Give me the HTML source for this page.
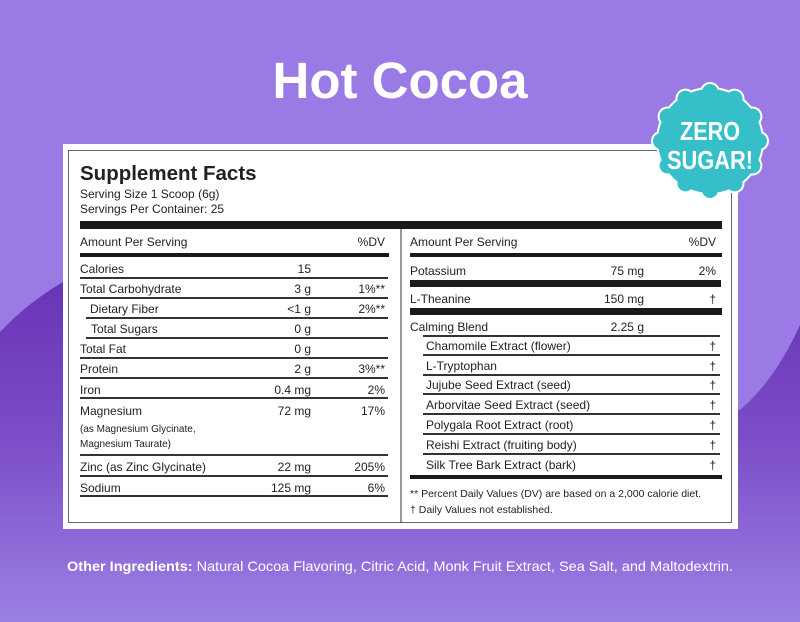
<!DOCTYPE html>
<html><head><meta charset="utf-8"><style>
html,body{margin:0;padding:0;width:800px;height:622px;overflow:hidden;background:#9a7be5}
svg{display:block}
text{font-family:"Liberation Sans",Arial,sans-serif;fill:#222}
</style></head><body>
<svg width="800" height="622" viewBox="0 0 800 622" xmlns="http://www.w3.org/2000/svg">
<defs>
<linearGradient id="g" x1="0" y1="0" x2="0" y2="1">
<stop offset="0" stop-color="#6834b6"/>
<stop offset="0.45" stop-color="#7a4cc6"/>
<stop offset="1" stop-color="#9b80e4"/>
</linearGradient>
</defs>
<rect width="800" height="622" fill="#9a7be5"/>
<path d="M0,332 Q30,300 70,278 L740,410 Q775,380 800,325 L800,622 L0,622 Z" fill="url(#g)"/>
<text x="400" y="98" text-anchor="middle" font-size="51" font-weight="bold" style="fill:#fff">Hot Cocoa</text>

<rect x="63" y="144" width="675" height="385" fill="#fff"/>
<rect x="68.5" y="150.5" width="663" height="372" fill="none" stroke="#666" stroke-width="1"/>

<text x="80" y="180" font-size="20.5" font-weight="bold">Supplement Facts</text>
<text x="80" y="198" font-size="12">Serving Size 1 Scoop (6g)</text>
<text x="80" y="213" font-size="12">Servings Per Container: 25</text>
<rect x="80" y="221" width="642" height="8" fill="#1a1a1a"/>
<line x1="401" y1="229" x2="401" y2="523" stroke="#333" stroke-width="1"/>

<g font-size="12">
<text x="80" y="246">Amount Per Serving</text>
<text x="385" y="246" text-anchor="end">%DV</text>
<rect x="80" y="253" width="309" height="4" fill="#1a1a1a"/>

<text x="80" y="273">Calories</text><text x="311" y="273" text-anchor="end">15</text>
<text x="80" y="293">Total Carbohydrate</text><text x="311" y="293" text-anchor="end">3 g</text><text x="385" y="293" text-anchor="end">1%**</text>
<text x="90" y="313">Dietary Fiber</text><text x="311" y="313" text-anchor="end">&lt;1 g</text><text x="385" y="313" text-anchor="end">2%**</text>
<text x="91" y="333">Total Sugars</text><text x="311" y="333" text-anchor="end">0 g</text>
<text x="80" y="353">Total Fat</text><text x="311" y="353" text-anchor="end">0 g</text>
<text x="80" y="373">Protein</text><text x="311" y="373" text-anchor="end">2 g</text><text x="385" y="373" text-anchor="end">3%**</text>
<text x="80" y="394">Iron</text><text x="311" y="394" text-anchor="end">0.4 mg</text><text x="385" y="394" text-anchor="end">2%</text>
<text x="80" y="415">Magnesium</text><text x="311" y="415" text-anchor="end">72 mg</text><text x="385" y="415" text-anchor="end">17%</text>
<text x="80" y="432" font-size="10">(as Magnesium Glycinate,</text>
<text x="80" y="447" font-size="10">Magnesium Taurate)</text>
<text x="80" y="471">Zinc (as Zinc Glycinate)</text><text x="311" y="471" text-anchor="end">22 mg</text><text x="385" y="471" text-anchor="end">205%</text>
<text x="80" y="492">Sodium</text><text x="311" y="492" text-anchor="end">125 mg</text><text x="385" y="492" text-anchor="end">6%</text>
</g>
<g stroke="#333" stroke-width="2">
<line x1="80" y1="278" x2="388" y2="278"/>
<line x1="80" y1="298" x2="388" y2="298"/>
<line x1="86" y1="318" x2="388" y2="318"/>
<line x1="86" y1="338" x2="388" y2="338"/>
<line x1="80" y1="358" x2="388" y2="358"/>
<line x1="80" y1="378" x2="388" y2="378"/>
<line x1="80" y1="398" x2="388" y2="398"/>
<line x1="80" y1="455" x2="388" y2="455"/>
<line x1="80" y1="476" x2="388" y2="476"/>
<line x1="80" y1="496" x2="388" y2="496"/>
</g>

<g font-size="12">
<text x="410" y="246">Amount Per Serving</text>
<text x="716" y="246" text-anchor="end">%DV</text>
<rect x="410" y="253" width="312" height="4" fill="#1a1a1a"/>
<text x="410" y="275">Potassium</text><text x="644" y="275" text-anchor="end">75 mg</text><text x="716" y="275" text-anchor="end">2%</text>
<rect x="410" y="280" width="311" height="7" fill="#1a1a1a"/>
<text x="410" y="303">L-Theanine</text><text x="644" y="303" text-anchor="end">150 mg</text><text x="716" y="303" text-anchor="end">†</text>
<rect x="410" y="308" width="312" height="7" fill="#1a1a1a"/>
<text x="410" y="331">Calming Blend</text><text x="644" y="331" text-anchor="end">2.25 g</text>
<text x="426" y="350">Chamomile Extract (flower)</text><text x="716" y="350" text-anchor="end">†</text>
<text x="426" y="370">L-Tryptophan</text><text x="716" y="370" text-anchor="end">†</text>
<text x="426" y="389">Jujube Seed Extract (seed)</text><text x="716" y="389" text-anchor="end">†</text>
<text x="426" y="409">Arborvitae Seed Extract (seed)</text><text x="716" y="409" text-anchor="end">†</text>
<text x="426" y="429">Polygala Root Extract (root)</text><text x="716" y="429" text-anchor="end">†</text>
<text x="426" y="449">Reishi Extract (fruiting body)</text><text x="716" y="449" text-anchor="end">†</text>
<text x="426" y="469">Silk Tree Bark Extract (bark)</text><text x="716" y="469" text-anchor="end">†</text>
<rect x="410" y="475" width="312" height="4" fill="#1a1a1a"/>
<text x="410" y="497" font-size="10.5">** Percent Daily Values (DV) are based on a 2,000 calorie diet.</text>
<text x="410" y="513" font-size="10.5">† Daily Values not established.</text>
</g>
<g stroke="#333" stroke-width="2">
<line x1="423" y1="336" x2="720" y2="336"/>
<line x1="423" y1="355" x2="720" y2="355"/>
<line x1="423" y1="375" x2="720" y2="375"/>
<line x1="423" y1="394" x2="720" y2="394"/>
<line x1="423" y1="414" x2="720" y2="414"/>
<line x1="423" y1="434" x2="720" y2="434"/>
<line x1="423" y1="454" x2="720" y2="454"/>
</g>

<g transform="translate(710,141)">
<g fill="#fff">
<circle r="54"/>
<circle cx="0" cy="-49" r="10"/><circle cx="24.5" cy="-42.4" r="10"/><circle cx="42.4" cy="-24.5" r="10"/><circle cx="49" cy="0" r="10"/><circle cx="42.4" cy="24.5" r="10"/><circle cx="24.5" cy="42.4" r="10"/><circle cx="0" cy="49" r="10"/><circle cx="-24.5" cy="42.4" r="10"/><circle cx="-42.4" cy="24.5" r="10"/><circle cx="-49" cy="0" r="10"/><circle cx="-42.4" cy="-24.5" r="10"/><circle cx="-24.5" cy="-42.4" r="10"/>
</g>
<g fill="#36bfc9">
<circle r="52"/>
<circle cx="0" cy="-49" r="8"/><circle cx="24.5" cy="-42.4" r="8"/><circle cx="42.4" cy="-24.5" r="8"/><circle cx="49" cy="0" r="8"/><circle cx="42.4" cy="24.5" r="8"/><circle cx="24.5" cy="42.4" r="8"/><circle cx="0" cy="49" r="8"/><circle cx="-24.5" cy="42.4" r="8"/><circle cx="-42.4" cy="24.5" r="8"/><circle cx="-49" cy="0" r="8"/><circle cx="-42.4" cy="-24.5" r="8"/><circle cx="-24.5" cy="-42.4" r="8"/>
</g>
<text x="0" y="-1" text-anchor="middle" font-size="26" font-weight="bold" style="fill:#fff" textLength="60" lengthAdjust="spacingAndGlyphs">ZERO</text>
<text x="0" y="28" text-anchor="middle" font-size="26" font-weight="bold" style="fill:#fff" textLength="86" lengthAdjust="spacingAndGlyphs">SUGAR!</text>
</g>

<text x="400" y="571" text-anchor="middle" font-size="14" style="fill:#fff" textLength="666" lengthAdjust="spacingAndGlyphs"><tspan font-weight="bold">Other Ingredients:</tspan> Natural Cocoa Flavoring, Citric Acid, Monk Fruit Extract, Sea Salt, and Maltodextrin.</text>
</svg>
</body></html>
